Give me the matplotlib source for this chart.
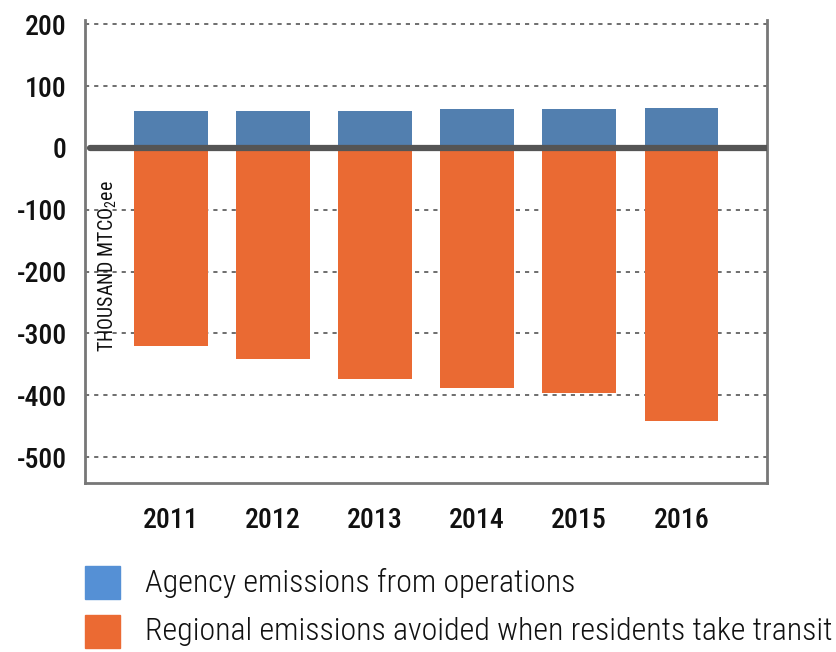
import matplotlib
matplotlib.use("Agg")
import matplotlib.pyplot as plt
import numpy as np

years = ["2011", "2012", "2013", "2014", "2015", "2016"]
agency = [60, 60, 60, 63, 63, 65]
avoided = [-320, -341, -373, -388, -396, -441]
yticks = [200, 100, 0, -100, -200, -300, -400, -500]
legend_labels = ["Agency emissions from operations",
                 "Regional emissions avoided when residents take transit"]

COND = ["Roboto Condensed", "DejaVu Sans"]

fig = plt.figure(figsize=(8.37, 6.52), dpi=100)
ax = fig.add_axes([0.1016, 0.2592, 0.8148, 0.7101])

x = np.arange(len(years))
ax.bar(x, agency, width=0.72, color="#527FAF", zorder=2)
ax.bar(x, avoided, width=0.72, color="#EA6A33", zorder=2)
ax.axhline(0, xmin=0.008, xmax=1, color="#555555", lw=4.5, zorder=3, solid_capstyle="round")

ax.set_xlim(-0.84, 5.84)
ax.set_ylim(-542, 207)
ax.set_yticks(yticks)
ax.set_yticklabels([str(v) for v in yticks], fontfamily=COND, fontweight=500, fontsize=20)
ax.set_xticks(x)
ax.set_xticklabels(years, fontfamily=COND, fontweight=500, fontsize=20)
ax.tick_params(axis="both", length=0, colors="#111111")
ax.tick_params(axis="y", pad=13)
ax.tick_params(axis="x", pad=17)

for v in yticks:
    if v != 0:
        ax.axhline(v, color="#555555", lw=1.2, ls=(0, (2.5, 3)), zorder=1)

for s in ["left", "right", "bottom"]:
    ax.spines[s].set_color("#777777")
    ax.spines[s].set_linewidth(2)
ax.spines["top"].set_visible(False)

ax.text(0.034, 0.283, r"THOUSAND MTCO$_\mathregular{2}$ee", rotation=90,
        transform=ax.transAxes, ha="center", va="bottom",
        fontfamily=COND, fontweight=400, fontsize=14.3, color="#111111")

colors_leg = ["#5590D5", "#EB6A33"]
ys = [583, 632]
for c, yp, lab in zip(colors_leg, ys, legend_labels):
    fig.patches.append(plt.Rectangle((85 / 837, 1 - (yp + 16) / 652), 35 / 837, 33 / 652,
                                     transform=fig.transFigure, color=c))
    fig.text(145 / 837, 1 - yp / 652, lab, fontfamily=COND, fontweight=300, fontsize=23,
             va="center", ha="left", color="#111111")

fig.savefig("out.png", dpi=100)
